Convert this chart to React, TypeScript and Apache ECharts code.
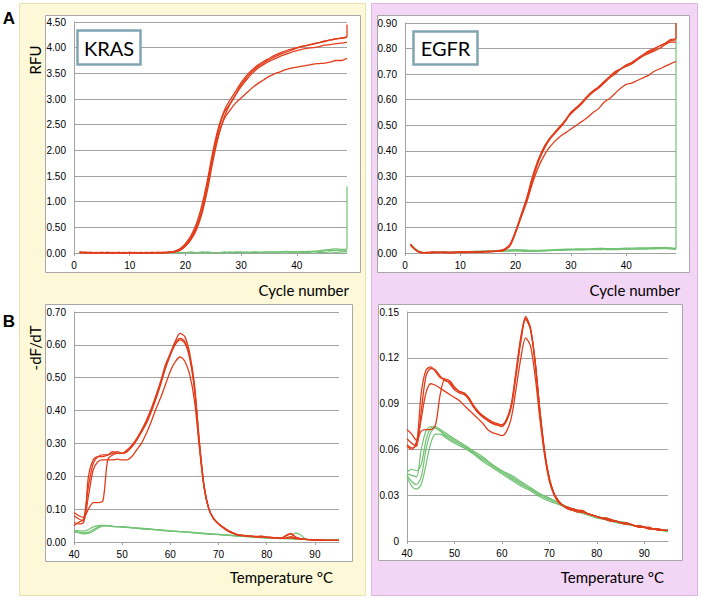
import React, { useEffect, useRef } from "react";
import * as echarts from "echarts";

// ---------- DATA ----------
const cycles = [1,2,3,4,5,6,7,8,9,10,11,12,13,14,15,16,17,18,19,20,21,22,23,24,25,26,27,28,29,30,31,32,33,34,35,36,37,38,39,40,41,42,43,44,45,46,47,48,49];
const temps = [40,41,42,43,44,45,46,47,48,49,50,51,52,53,54,55,56,57,58,59,60,61,62,63,64,65,66,67,68,69,70,71,72,73,74,75,76,77,78,79,80,81,82,83,84,85,86,87,88,89,90,91,92,93,94,95];

const cycleTicks = [0, 10, 20, 30, 40];
const tempTicks = [40, 50, 60, 70, 80, 90];

// KRAS amplification (RFU)
const krasRed1 = [0.02,0.01,0.01,0.0,0.01,0.0,0.01,0.0,0.0,0.01,0.0,0.0,0.01,0.0,0.01,0.01,0.02,0.03,0.07,0.16,0.3,0.52,0.85,1.35,1.95,2.42,2.75,2.9,3.08,3.28,3.42,3.54,3.63,3.7,3.76,3.82,3.87,3.91,3.95,3.99,4.02,4.05,4.07,4.1,4.12,4.15,4.17,4.19,4.22];
const krasRed2 = [0.01,0.01,0.0,0.01,0.0,0.01,0.0,0.0,0.01,0.0,0.01,0.0,0.0,0.01,0.0,0.01,0.01,0.03,0.08,0.18,0.34,0.58,0.95,1.45,2.02,2.47,2.78,2.98,3.15,3.32,3.46,3.57,3.66,3.73,3.79,3.85,3.9,3.94,3.97,4.0,4.03,4.05,4.08,4.1,4.13,4.15,4.17,4.18,4.2];
const krasRed3 = [0.01,0.0,0.01,0.0,0.0,0.01,0.0,0.01,0.0,0.0,0.0,0.01,0.0,0.0,0.01,0.0,0.01,0.02,0.05,0.13,0.26,0.46,0.78,1.25,1.82,2.3,2.66,2.9,3.08,3.24,3.38,3.5,3.6,3.67,3.73,3.78,3.83,3.87,3.91,3.94,3.97,3.99,4.0,4.02,4.05,4.06,4.08,4.09,4.11];
const krasRed4 = [0.01,0.01,0.0,0.0,0.01,0.0,0.0,0.01,0.0,0.01,0.0,0.0,0.0,0.01,0.0,0.0,0.01,0.02,0.05,0.14,0.28,0.5,0.85,1.35,1.9,2.33,2.62,2.78,2.92,3.02,3.12,3.22,3.3,3.37,3.44,3.49,3.53,3.57,3.6,3.62,3.64,3.66,3.68,3.69,3.7,3.72,3.75,3.75,3.79];
const krasGreen1 = [0.01,0.01,0.01,0.0,0.01,0.01,0.0,0.01,0.01,0.01,0.0,0.01,0.01,0.01,0.01,0.0,0.01,0.01,0.01,0.01,0.02,0.01,0.01,0.02,0.01,0.01,0.02,0.01,0.02,0.02,0.01,0.02,0.02,0.01,0.02,0.02,0.02,0.03,0.02,0.02,0.02,0.03,0.03,0.04,0.06,0.07,0.08,0.07,0.08];
const krasGreen2 = [0.0,0.01,0.0,0.01,0.0,0.0,0.01,0.0,0.01,0.0,0.01,0.0,0.01,0.0,0.01,0.01,0.0,0.01,0.01,0.0,0.01,0.01,0.02,0.01,0.01,0.01,0.01,0.02,0.01,0.01,0.02,0.01,0.01,0.02,0.02,0.01,0.02,0.02,0.02,0.02,0.03,0.02,0.03,0.03,0.04,0.05,0.05,0.04,0.05];
const krasGreen3 = [0.0,0.0,0.01,0.0,0.0,0.0,0.0,0.01,0.0,0.0,0.0,0.0,0.0,0.01,0.0,0.0,0.0,0.0,0.0,0.01,0.0,0.0,0.0,0.0,0.01,0.0,0.0,0.0,0.01,0.0,0.0,0.01,0.0,0.0,0.0,0.01,0.0,0.0,0.01,0.0,0.01,0.01,0.0,0.01,0.01,0.02,0.01,0.02,0.02];
const krasRedEnd = 4.45;
const krasGreenEnd = 1.3;

// EGFR amplification (RFU)
const egfrRed1 = [0.035,0.012,0.002,0.0,0.004,0.002,0.003,0.0,0.002,0.004,0.003,0.002,0.005,0.004,0.006,0.005,0.008,0.015,0.035,0.085,0.15,0.215,0.295,0.36,0.41,0.445,0.47,0.49,0.515,0.55,0.57,0.59,0.615,0.635,0.65,0.67,0.69,0.71,0.72,0.735,0.745,0.76,0.775,0.79,0.8,0.81,0.82,0.83,0.835];
const egfrRed2 = [0.03,0.01,0.001,0.002,0.0,0.003,0.002,0.001,0.003,0.002,0.004,0.003,0.002,0.006,0.004,0.007,0.006,0.012,0.03,0.08,0.14,0.2,0.28,0.35,0.4,0.44,0.465,0.49,0.52,0.55,0.565,0.585,0.61,0.63,0.645,0.665,0.685,0.7,0.72,0.73,0.74,0.755,0.77,0.78,0.79,0.8,0.815,0.825,0.825];
const egfrRed3 = [0.033,0.011,0.002,0.001,0.003,0.001,0.004,0.002,0.001,0.003,0.005,0.004,0.003,0.005,0.007,0.006,0.009,0.013,0.03,0.08,0.145,0.21,0.29,0.355,0.405,0.44,0.47,0.495,0.52,0.545,0.565,0.59,0.61,0.63,0.65,0.67,0.69,0.705,0.72,0.735,0.745,0.76,0.775,0.785,0.795,0.81,0.82,0.835,0.84];
const egfrRed4 = [0.032,0.01,0.001,0.002,0.002,0.003,0.001,0.002,0.003,0.002,0.002,0.004,0.004,0.003,0.005,0.006,0.007,0.012,0.03,0.085,0.145,0.2,0.27,0.33,0.375,0.41,0.435,0.455,0.47,0.485,0.5,0.515,0.53,0.55,0.565,0.59,0.605,0.625,0.645,0.66,0.665,0.675,0.685,0.695,0.71,0.72,0.73,0.74,0.75];
const egfrGreen1 = [0.035,0.015,0.003,0.002,0.002,0.002,0.003,0.002,0.003,0.004,0.005,0.004,0.005,0.006,0.006,0.007,0.008,0.009,0.01,0.01,0.011,0.01,0.009,0.008,0.008,0.01,0.011,0.012,0.013,0.013,0.014,0.013,0.014,0.015,0.015,0.016,0.015,0.014,0.015,0.016,0.017,0.016,0.017,0.018,0.018,0.019,0.02,0.018,0.015];
const egfrGreen2 = [0.03,0.012,0.002,0.001,0.001,0.002,0.002,0.003,0.002,0.003,0.004,0.004,0.004,0.005,0.005,0.006,0.006,0.007,0.007,0.008,0.007,0.006,0.006,0.007,0.008,0.009,0.01,0.01,0.011,0.012,0.012,0.012,0.013,0.013,0.013,0.014,0.013,0.013,0.014,0.014,0.015,0.015,0.015,0.016,0.016,0.017,0.017,0.016,0.014];
const egfrGreen3 = [0.032,0.013,0.003,0.002,0.002,0.003,0.003,0.004,0.004,0.005,0.005,0.006,0.007,0.007,0.008,0.009,0.01,0.011,0.012,0.013,0.012,0.011,0.01,0.01,0.011,0.012,0.013,0.014,0.015,0.015,0.016,0.016,0.016,0.017,0.018,0.018,0.017,0.017,0.018,0.019,0.019,0.02,0.02,0.02,0.021,0.021,0.022,0.02,0.018];
const egfrRedEnd = 0.9;
const egfrGreenEnd = 0.9;

// KRAS melt (-dF/dT)
const krasMelt1 = [0.05,0.06,0.07,0.17,0.24,0.26,0.265,0.265,0.27,0.275,0.27,0.28,0.295,0.315,0.34,0.37,0.405,0.445,0.49,0.54,0.575,0.61,0.635,0.625,0.575,0.48,0.31,0.17,0.1,0.07,0.055,0.045,0.035,0.028,0.022,0.02,0.019,0.018,0.017,0.018,0.015,0.014,0.013,0.012,0.018,0.025,0.015,0.01,0.008,0.007,0.006,0.006,0.005,0.005,0.005,0.005];
const krasMelt2 = [0.08,0.07,0.065,0.2,0.25,0.26,0.26,0.265,0.275,0.27,0.27,0.275,0.29,0.31,0.335,0.365,0.4,0.44,0.485,0.53,0.57,0.605,0.62,0.61,0.565,0.47,0.305,0.17,0.1,0.072,0.056,0.044,0.034,0.027,0.022,0.02,0.018,0.017,0.016,0.017,0.015,0.014,0.012,0.012,0.02,0.026,0.014,0.01,0.008,0.007,0.006,0.006,0.005,0.005,0.005,0.005];
const krasMelt3 = [0.09,0.08,0.075,0.1,0.12,0.12,0.125,0.25,0.265,0.27,0.27,0.275,0.29,0.31,0.335,0.36,0.395,0.435,0.48,0.53,0.57,0.6,0.615,0.605,0.56,0.465,0.3,0.168,0.1,0.07,0.055,0.044,0.034,0.027,0.022,0.02,0.018,0.017,0.016,0.016,0.014,0.013,0.012,0.011,0.012,0.016,0.012,0.009,0.008,0.007,0.006,0.006,0.005,0.005,0.005,0.005];
const krasMelt4 = [0.06,0.055,0.06,0.14,0.22,0.245,0.25,0.25,0.25,0.252,0.25,0.25,0.26,0.28,0.3,0.33,0.365,0.405,0.44,0.48,0.52,0.548,0.563,0.55,0.51,0.43,0.29,0.165,0.1,0.07,0.055,0.043,0.033,0.026,0.021,0.019,0.018,0.017,0.016,0.016,0.014,0.013,0.012,0.011,0.011,0.012,0.01,0.009,0.008,0.007,0.006,0.006,0.005,0.005,0.005,0.005];
const krasMeltGreen1 = [[40,0.03],[41,0.03],[42,0.028],[43,0.03],[44,0.038],[45,0.046],[46,0.05],[47,0.05],[48,0.048],[50,0.046],[52,0.044],[54,0.042],[56,0.039],[58,0.037],[60,0.034],[62,0.032],[64,0.03],[66,0.028],[68,0.025],[70,0.023],[72,0.021],[74,0.019],[76,0.017],[78,0.015],[80,0.013],[82,0.012],[84,0.011],[85,0.015],[86,0.028],[87,0.022],[88,0.01],[90,0.007],[92,0.007],[95,0.008]];
const krasMeltGreen2 = [[40,0.033],[41,0.028],[42,0.025],[43,0.026],[44,0.033],[45,0.043],[46,0.048],[47,0.049],[48,0.047],[50,0.045],[52,0.043],[54,0.04],[56,0.038],[58,0.035],[60,0.033],[62,0.031],[64,0.029],[66,0.026],[68,0.024],[70,0.022],[72,0.02],[74,0.018],[76,0.016],[78,0.014],[80,0.012],[82,0.011],[84,0.01],[86,0.009],[88,0.008],[90,0.007],[92,0.006],[95,0.007]];
const krasMeltGreen3 = [[40,0.035],[41,0.034],[42,0.033],[43,0.038],[44,0.046],[45,0.05],[46,0.051],[47,0.05],[48,0.048],[50,0.046],[52,0.044],[54,0.041],[56,0.039],[58,0.036],[60,0.034],[62,0.032],[64,0.029],[66,0.027],[68,0.025],[70,0.023],[72,0.021],[74,0.018],[76,0.016],[78,0.015],[80,0.013],[82,0.012],[84,0.011],[86,0.01],[88,0.008],[90,0.007],[92,0.007],[95,0.007]];

// EGFR melt (-dF/dT)
const egfrMelt1 = [0.067,0.064,0.062,0.085,0.108,0.113,0.112,0.108,0.105,0.104,0.1,0.098,0.097,0.094,0.089,0.085,0.082,0.08,0.078,0.077,0.076,0.079,0.089,0.11,0.132,0.147,0.14,0.118,0.086,0.059,0.041,0.031,0.026,0.023,0.022,0.021,0.02,0.02,0.018,0.017,0.016,0.015,0.015,0.014,0.013,0.012,0.012,0.011,0.01,0.01,0.009,0.009,0.008,0.008,0.007,0.007];
const egfrMelt2 = [0.063,0.061,0.063,0.097,0.112,0.114,0.111,0.107,0.106,0.103,0.099,0.097,0.096,0.093,0.088,0.084,0.082,0.079,0.077,0.076,0.076,0.08,0.09,0.112,0.134,0.146,0.139,0.117,0.085,0.058,0.04,0.031,0.026,0.023,0.021,0.02,0.02,0.019,0.018,0.017,0.016,0.015,0.014,0.013,0.013,0.012,0.011,0.011,0.01,0.01,0.009,0.008,0.008,0.007,0.007,0.007];
const egfrMelt3 = [0.073,0.07,0.066,0.072,0.073,0.073,0.076,0.096,0.106,0.105,0.101,0.098,0.097,0.093,0.088,0.084,0.081,0.079,0.077,0.076,0.075,0.079,0.088,0.109,0.131,0.145,0.139,0.117,0.085,0.058,0.041,0.031,0.026,0.023,0.021,0.021,0.02,0.019,0.018,0.017,0.016,0.015,0.015,0.014,0.013,0.012,0.012,0.011,0.01,0.009,0.009,0.008,0.008,0.008,0.007,0.007];
const egfrMelt4 = [0.062,0.06,0.065,0.08,0.097,0.103,0.102,0.1,0.098,0.096,0.094,0.092,0.089,0.086,0.083,0.08,0.077,0.073,0.071,0.07,0.069,0.072,0.081,0.1,0.12,0.133,0.128,0.108,0.08,0.056,0.039,0.03,0.025,0.023,0.021,0.02,0.019,0.019,0.018,0.017,0.016,0.015,0.014,0.013,0.013,0.012,0.011,0.011,0.01,0.009,0.009,0.008,0.008,0.007,0.007,0.007];
const egfrMeltGreen1 = [[40,0.045],[41,0.047],[42,0.046],[43,0.05],[44,0.066],[45,0.074],[46,0.075],[47,0.073],[48,0.071],[50,0.067],[52,0.063],[54,0.059],[56,0.055],[58,0.05],[60,0.046],[62,0.043],[64,0.039],[66,0.035],[68,0.031],[70,0.028],[72,0.025],[74,0.022],[76,0.02],[78,0.018],[80,0.016],[82,0.015],[84,0.013],[86,0.012],[88,0.01],[90,0.009],[92,0.008],[95,0.007]];
const egfrMeltGreen2 = [[40,0.043],[41,0.039],[42,0.037],[43,0.042],[44,0.06],[45,0.071],[46,0.074],[47,0.072],[48,0.069],[50,0.065],[52,0.062],[54,0.058],[56,0.053],[58,0.049],[60,0.045],[62,0.041],[64,0.037],[66,0.034],[68,0.03],[70,0.027],[72,0.024],[74,0.022],[76,0.019],[78,0.018],[80,0.016],[82,0.014],[84,0.013],[86,0.011],[88,0.01],[90,0.009],[92,0.008],[95,0.007]];
const egfrMeltGreen3 = [[40,0.042],[41,0.036],[42,0.034],[43,0.037],[44,0.05],[45,0.064],[46,0.07],[47,0.07],[48,0.068],[50,0.064],[52,0.061],[54,0.057],[56,0.052],[58,0.048],[60,0.044],[62,0.04],[64,0.036],[66,0.033],[68,0.029],[70,0.026],[72,0.024],[74,0.021],[76,0.019],[78,0.017],[80,0.015],[82,0.014],[84,0.012],[86,0.011],[88,0.01],[90,0.009],[92,0.008],[95,0.006]];
const egfrMeltGreen4 = [[40,0.044],[41,0.043],[42,0.042],[43,0.06],[44,0.072],[45,0.075],[46,0.074],[47,0.072],[48,0.07],[50,0.066],[52,0.062],[54,0.058],[56,0.054],[58,0.05],[60,0.046],[62,0.042],[64,0.038],[66,0.034],[68,0.031],[70,0.028],[72,0.025],[74,0.022],[76,0.02],[78,0.018],[80,0.016],[82,0.014],[84,0.013],[86,0.012],[88,0.01],[90,0.009],[92,0.008],[95,0.007]];

// ---------- STYLE ----------
const RED = "#e23d1b";
const GREEN = "#72c274";
const GRIDC = "#a3a3a3";
const TICKFONT = "Liberation Sans";
const TITLEFONT = "Lato";

const pair = (xs: number[], ys: number[]) => ys.map((v, i) => [xs[i], v]);

function line(data: number[][], idx: number, color: string, width: number) {
  return {
    type: "line",
    xAxisIndex: idx,
    yAxisIndex: idx,
    data,
    showSymbol: false,
    symbol: "none",
    smooth: 0.3,
    lineStyle: { color, width },
    itemStyle: { color },
    silent: true,
    z: color === RED ? 3 : 2,
  };
}

function xAx(idx: number, min: number, max: number) {
  return {
    type: "value",
    gridIndex: idx,
    min,
    max,
    interval: 10,
    axisLine: { show: true, onZero: false, lineStyle: { color: GRIDC, width: 1 } },
    axisTick: { show: true, length: 3, lineStyle: { color: GRIDC } },
    axisLabel: {
      color: "#000",
      fontSize: 10,
      fontFamily: TICKFONT,
      margin: 7,
      showMaxLabel: false,
    },
    splitLine: { show: false },
  };
}

function yAx(idx: number, max: number, interval: number, fmt: (v: number) => string) {
  return {
    type: "value",
    gridIndex: idx,
    min: 0,
    max,
    interval,
    axisLine: { show: true, lineStyle: { color: GRIDC, width: 1 } },
    axisTick: { show: false },
    axisLabel: {
      color: "#000",
      fontSize: 10,
      fontFamily: TICKFONT,
      margin: 8,
      formatter: fmt,
    },
    splitLine: { show: true, lineStyle: { color: GRIDC, width: 1 } },
  };
}

function box(x: number, y: number, w: number, h: number, fill: string, stroke: string, lw: number, z: number) {
  return {
    type: "rect",
    silent: true,
    z,
    shape: { x, y, width: w, height: h },
    style: { fill, stroke, lineWidth: lw },
  };
}

function txt(text: string, x: number, y: number, font: string, align: string, rotation = 0) {
  return {
    type: "text",
    silent: true,
    z: 10,
    x,
    y,
    rotation,
    style: { text, font, fill: "#000", align, verticalAlign: "middle" },
  };
}

export default function App() {
  const ref = useRef<HTMLDivElement>(null);
  useEffect(() => {
    document.body.style.margin = "0";
    if (!ref.current) return;
    const chart = echarts.init(ref.current, null, { renderer: "svg" });
    const f2 = (v: number) => v.toFixed(2);
    const fBR = (v: number) => (Math.abs(v) < 1e-9 ? "0" : v.toFixed(2));
    const option = {
      animation: false,
      graphic: {
        elements: [
          box(19.5, 3.5, 346, 592, "#fdf9d8", "#e9e1ae", 1, -10),
          box(371.5, 3.5, 326, 592, "#f3d5f6", "#ddb6e2", 1, -10),
          box(45.5, 15.5, 315, 257, "#ffffff", "#a8a8a8", 1, -5),
          box(377.5, 15.5, 312, 257, "#ffffff", "#a8a8a8", 1, -5),
          box(45.5, 304.5, 307, 257, "#ffffff", "#a8a8a8", 1, -5),
          box(378.5, 304.5, 304, 256, "#ffffff", "#a8a8a8", 1, -5),
          box(77.5, 30.5, 63, 34, "#ffffff", "#7fa5b4", 2.5, 8),
          box(413.5, 31.5, 64, 33, "#ffffff", "#7fa5b4", 2.5, 8),
          txt("KRAS", 109, 48, `20px ${TITLEFONT}`, "center"),
          txt("EGFR", 445.5, 48, `20px ${TITLEFONT}`, "center"),
          txt("A", 9, 18, "bold 17px Liberation Sans", "center"),
          txt("B", 9, 321, "bold 17px Liberation Sans", "center"),
          txt("RFU", 35, 60, `15px ${TITLEFONT}`, "center", Math.PI / 2),
          txt("-dF/dT", 35, 348, `15px ${TITLEFONT}`, "center", Math.PI / 2),
          txt("Cycle number", 349, 290, `15px ${TITLEFONT}`, "right"),
          txt("Cycle number", 680, 290, `15px ${TITLEFONT}`, "right"),
          txt("Temperature °C", 333, 577, `15px ${TITLEFONT}`, "right"),
          txt("Temperature °C", 664, 577, `15px ${TITLEFONT}`, "right"),
        ],
      },
      grid: [
        { left: 74, top: 22, width: 273, height: 231 },
        { left: 405, top: 23, width: 271, height: 230 },
        { left: 74, top: 312, width: 265, height: 230 },
        { left: 407, top: 312, width: 261, height: 229 },
      ],
      xAxis: [
        xAx(0, cycleTicks[0], 49),
        xAx(1, cycleTicks[0], 49),
        xAx(2, tempTicks[0], 95),
        xAx(3, tempTicks[0], 95),
      ],
      yAxis: [
        yAx(0, 4.5, 0.5, f2),
        yAx(1, 0.9, 0.1, f2),
        yAx(2, 0.7, 0.1, f2),
        yAx(3, 0.15, 0.03, fBR),
      ],
      series: [
        line([...pair(cycles, krasGreen1), [49, krasGreenEnd]], 0, GREEN, 1.2),
        line(pair(cycles, krasGreen2), 0, GREEN, 1.2),
        line(pair(cycles, krasGreen3), 0, GREEN, 1.2),
        line([...pair(cycles, krasRed1), [49, krasRedEnd]], 0, RED, 1.3),
        line(pair(cycles, krasRed2), 0, RED, 1.3),
        line(pair(cycles, krasRed3), 0, RED, 1.3),
        line(pair(cycles, krasRed4), 0, RED, 1.3),

        line(pair(cycles, egfrGreen1), 1, GREEN, 1.2),
        line(pair(cycles, egfrGreen2), 1, GREEN, 1.2),
        line([...pair(cycles, egfrGreen3), [49, egfrGreenEnd]], 1, GREEN, 1.2),
        line(pair(cycles, egfrRed1), 1, RED, 1.3),
        line(pair(cycles, egfrRed2), 1, RED, 1.3),
        line([...pair(cycles, egfrRed3), [49, egfrRedEnd]], 1, RED, 1.3),
        line(pair(cycles, egfrRed4), 1, RED, 1.3),

        line(krasMeltGreen1, 2, GREEN, 1.2),
        line(krasMeltGreen2, 2, GREEN, 1.2),
        line(krasMeltGreen3, 2, GREEN, 1.2),
        line(pair(temps, krasMelt1), 2, RED, 1.3),
        line(pair(temps, krasMelt2), 2, RED, 1.3),
        line(pair(temps, krasMelt3), 2, RED, 1.3),
        line(pair(temps, krasMelt4), 2, RED, 1.3),

        line(egfrMeltGreen1, 3, GREEN, 1.2),
        line(egfrMeltGreen2, 3, GREEN, 1.2),
        line(egfrMeltGreen3, 3, GREEN, 1.2),
        line(egfrMeltGreen4, 3, GREEN, 1.2),
        line(pair(temps, egfrMelt1), 3, RED, 1.3),
        line(pair(temps, egfrMelt2), 3, RED, 1.3),
        line(pair(temps, egfrMelt3), 3, RED, 1.3),
        line(pair(temps, egfrMelt4), 3, RED, 1.3),
      ],
    };
    chart.setOption(option as any);
    return () => chart.dispose();
  }, []);
  return <div ref={ref} style={{ width: 701, height: 599 }} />;
}
